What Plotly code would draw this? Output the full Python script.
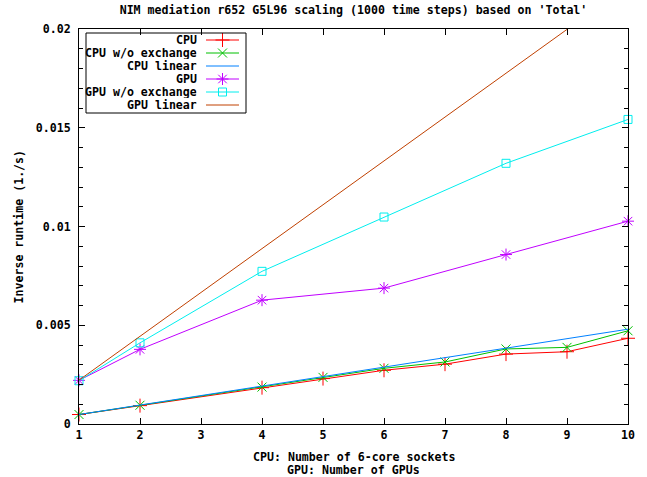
import plotly.graph_objects as go

# ---- data ----
cpu_x = [1, 2, 4, 5, 6, 7, 8, 9, 10]
cpu = [0.00048, 0.00093, 0.00184, 0.00230, 0.00272, 0.00303, 0.00354, 0.00366, 0.00434]
cpu_wo = [0.00048, 0.00095, 0.00187, 0.00236, 0.00282, 0.00314, 0.00380, 0.00388, 0.00472]
cpu_lin_x = [1, 10]
cpu_lin = [0.00048, 0.0048]
gpu_x = [1, 2, 4, 6, 8, 10]
gpu = [0.00221, 0.00378, 0.00627, 0.00688, 0.00858, 0.01027]
gpu_wo = [0.00219, 0.00411, 0.00773, 0.01048, 0.01320, 0.01542]
gpu_lin_x = [1, 10]
gpu_lin = [0.00222, 0.0222]

x_ticks = [1, 2, 3, 4, 5, 6, 7, 8, 9, 10]
y_ticks = [0, 0.005, 0.01, 0.015, 0.02]
y_tick_text = ["0", "0.005", "0.01", "0.015", "0.02"]

names = ["CPU", "CPU w/o exchange", "CPU linear", "GPU", "GPU w/o exchange", "GPU linear"]
title_text = "NIM mediation r652 G5L96 scaling (1000 time steps) based on 'Total'"
x_title_lines = ["CPU: Number of 6-core sockets", "GPU: Number of GPUs"]
y_title = "Inverse runtime (1./s)"

# ---- styles ----
FONT = "DejaVu Sans Mono"
FS = 11.6
colors = ["#ff0000", "#00c000", "#0080ff", "#c000ff", "#00eeee", "#c04000"]
symbols = ["cross-thin", "x-thin", None, "asterisk", "square-open", None]
msize = [10, 9, 0, 10, 8, 0]

series = [
    (cpu_x, cpu), (cpu_x, cpu_wo), (cpu_lin_x, cpu_lin),
    (gpu_x, gpu), (gpu_x, gpu_wo), (gpu_lin_x, gpu_lin),
]

fnt = dict(family=FONT, size=FS, color="black", weight="bold")

W, H = 647, 477
L, R, T, B = 79, 19, 29, 53
PW, PH = W - L - R, H - T - B


def px(xp):
    return (xp - L) / PW


def py(yp):
    return (H - B - yp) / PH


fig = go.Figure()
for i, (xs, ys) in enumerate(series):
    if symbols[i]:
        fig.add_trace(go.Scatter(
            x=xs, y=ys, mode="lines+markers", name=names[i],
            line=dict(color=colors[i], width=1),
            marker=dict(symbol=symbols[i], size=msize[i], color=colors[i],
                        line=dict(color=colors[i], width=1)),
            showlegend=False, cliponaxis=False))
    else:
        fig.add_trace(go.Scatter(
            x=xs, y=ys, mode="lines", name=names[i],
            line=dict(color=colors[i], width=1), showlegend=False))

# ---- gnuplot-style key: text right-aligned, sample to the right ----
key_x0, key_x1, key_y0 = 86, 246, 33
row_h = 13
text_right = 198
samp0, samp1 = 206, 239
for i, nm in enumerate(names):
    ry = key_y0 + 7 + i * row_h
    fig.add_trace(go.Scatter(x=[samp0, samp1], y=[ry, ry], mode="lines",
                             xaxis="x2", yaxis="y2", showlegend=False,
                             hoverinfo="skip",
                             line=dict(color=colors[i], width=1)))
    if symbols[i]:
        fig.add_trace(go.Scatter(x=[(samp0 + samp1) / 2], y=[ry], mode="markers",
                                 xaxis="x2", yaxis="y2", showlegend=False,
                                 hoverinfo="skip",
                                 marker=dict(symbol=symbols[i], size=msize[i],
                                             color=colors[i],
                                             line=dict(color=colors[i], width=1))))
    fig.add_annotation(x=px(text_right), y=py(ry), xref="paper", yref="paper", text=nm,
                       showarrow=False, xanchor="right", yanchor="middle",
                       height=12, valign="middle", borderpad=0, font=fnt)
fig.add_shape(type="rect", xref="x2", yref="y2",
              x0=key_x0, x1=key_x1, y0=key_y0, y1=key_y0 + 6 * row_h + 2,
              line=dict(color="black", width=1))

# x-axis title (two lines, gnuplot spacing)
cx = (L + (W - R)) / 2
for j, ln in enumerate(x_title_lines):
    fig.add_annotation(x=px(cx), y=py(457 + 13 * j), xref="paper", yref="paper", text=ln,
                       showarrow=False, xanchor="center", yanchor="middle",
                       height=12, borderpad=0, font=fnt)
# y-axis title
fig.add_annotation(x=px(18), y=py((T + H - B) / 2), xref="paper", yref="paper",
                   text=y_title, showarrow=False, textangle=-90,
                   xanchor="center", yanchor="middle", borderpad=0, font=fnt)

fig.update_layout(
    width=W, height=H,
    margin=dict(l=L, r=R, t=T, b=B, autoexpand=False),
    paper_bgcolor="white", plot_bgcolor="white",
    font=fnt,
    hovermode=False,
    title=dict(text=title_text,
               x=0.5, xref="paper", xanchor="center",
               y=1 - 10 / H, yref="container", yanchor="middle",
               font=fnt),
    xaxis=dict(range=[1, 10], tickvals=x_ticks, ticks="inside", ticklen=6,
               tickcolor="black", showline=True, linecolor="black", linewidth=1,
               mirror="ticks", showgrid=False, zeroline=False),
    yaxis=dict(range=[0, 0.02], tickvals=y_ticks, ticktext=y_tick_text,
               ticks="inside", ticklen=6, tickcolor="black",
               showline=True, linecolor="black", linewidth=1, mirror="ticks",
               showgrid=False, zeroline=False, ticklabelstandoff=5,
               minor=dict(dtick=0.001, ticks="inside", ticklen=4, tickcolor="black",
                          showgrid=False)),
    xaxis2=dict(overlaying="x", range=[L, W - R], visible=False),
    yaxis2=dict(overlaying="y", range=[H - B, T], visible=False),
)

fig.write_html("out.html",
               config={"displayModeBar": False, "staticPlot": True},
               post_script="document.body.style.margin='0px';document.body.style.padding='0px';")
